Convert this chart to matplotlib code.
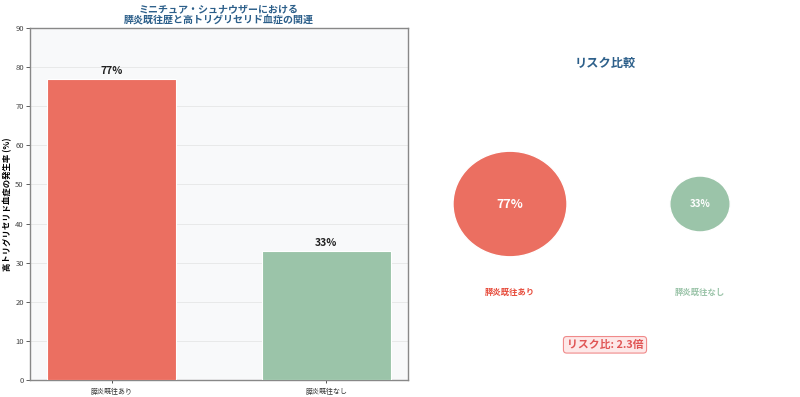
import matplotlib
matplotlib.use("Agg")
import matplotlib.pyplot as plt
from matplotlib.patches import Circle

plt.rcParams['font.family'] = ['Noto Sans CJK JP', 'DejaVu Sans']

categories = ['膵炎既往あり', '膵炎既往なし']
rates = [77, 33]
bar_labels = ['77%', '33%']
colors = ['#eb6f61', '#9bc4a9']
title = 'ミニチュア・シュナウザーにおける\n膵炎既往歴と高トリグリセリド血症の関連'
ylabel = '高トリグリセリド血症の発生率 (%)'
risk_title = 'リスク比較'
risk_text = 'リスク比: 2.3倍'
yticks = list(range(0, 91, 10))

fig = plt.figure(figsize=(8, 3.97), dpi=100)
ax = fig.add_axes([30/800, 1-380/397, 378/800, 352/397])
ax.set_facecolor('#f8f9fa')
x = list(range(len(categories)))
bars = ax.bar(x, rates, width=0.6, color=colors, edgecolor='white', linewidth=0.8, zorder=3)
for xi, v, lab in zip(x, rates, bar_labels):
    ax.text(xi, v + 0.8, lab, ha='center', va='bottom', fontsize=7.5, fontweight='bold', color='#222222')
ax.set_ylim(0, 90)
ax.set_yticks(yticks)
ax.set_xticks(x)
ax.set_xticklabels(categories, fontsize=5)
ax.tick_params(axis='y', labelsize=5.5, colors='#444444', length=3, width=0.6, pad=1.5)
ax.tick_params(axis='x', length=2.5, width=0.6, colors='#333333')
ax.set_ylabel(ylabel, fontsize=6, fontweight='bold', labelpad=2)
ax.set_title(title, fontsize=7.2, fontweight='bold', color='#2c5f8a', pad=3, linespacing=1.05)
ax.grid(axis='y', color='#dddddd', linewidth=0.5, alpha=0.8, zorder=0)
for s in ax.spines.values():
    s.set_color('#888888')
    s.set_linewidth(1.0)

ax2 = fig.add_axes([415/800, 1-380/397, 380/800, 352/397])
ax2.set_xlim(0, 1)
ax2.set_ylim(0, 1)
ax2.axis('off')
centers = [0.25, 0.75]
maxv = max(rates)
for cx, v, col, lab, cat in zip(centers, rates, colors, bar_labels, categories):
    r = 0.15 * (v / maxv) ** 0.75
    ax2.add_patch(Circle((cx, 0.5), r, facecolor=col, edgecolor='white', linewidth=1))
    ax2.text(cx, 0.5, lab, ha='center', va='center', color='white', fontweight='bold',
             fontsize=9 if v == maxv else 7)
    ax2.text(cx, 0.25, cat, ha='center', va='center', color=col if v != maxv else '#e74c3c',
             fontsize=6, fontweight='bold')
ax2.text(0.5, 0.9, risk_title, ha='center', va='center', fontsize=8.8, fontweight='bold', color='#2c5f8a')
ax2.text(0.5, 0.1, risk_text, ha='center', va='center', fontsize=7.8, fontweight='bold', color='#e05555',
         bbox=dict(boxstyle='round,pad=0.3', facecolor='#fde8e8', edgecolor='#f08a8a', linewidth=0.8))

fig.savefig('out.png', dpi=100)
